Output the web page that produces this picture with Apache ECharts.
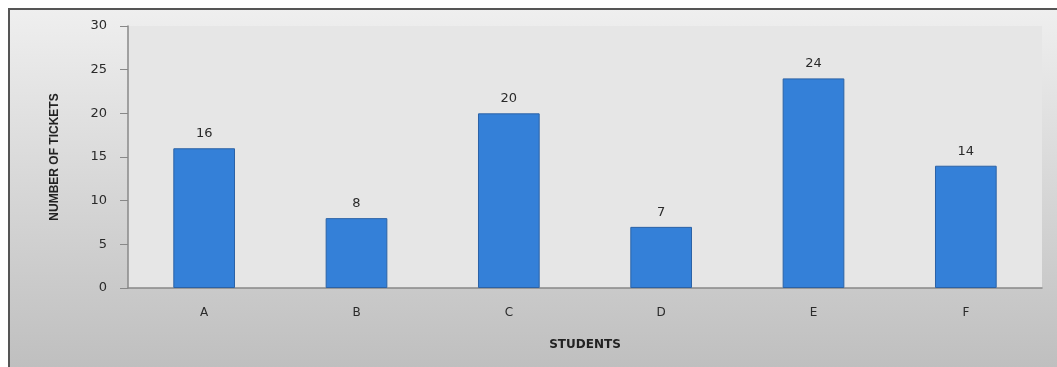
<!DOCTYPE html>
<html><head><meta charset="utf-8">
<script src="https://cdn.jsdelivr.net/npm/echarts@6/dist/echarts.min.js"></script>
<style>html,body{margin:0;padding:0;background:#fff}#c{width:1057px;height:367px}</style>
</head><body><div id="c"></div>
<script>
const categories = ['A','B','C','D','E','F'];
const tickets = [16, 8, 20, 7, 24, 14];
const yTicks = [0, 5, 10, 15, 20, 25, 30];

const chart = echarts.init(document.getElementById('c'), null, {renderer:'canvas'});
chart.setOption({
  animation: false,
  backgroundColor: '#ffffff',
  graphic: [{
    type: 'rect', z: -10, silent: true,
    shape: {x: 9, y: 9, width: 1060, height: 380},
    style: {
      fill: new echarts.graphic.LinearGradient(0,0,0,1,[{offset:0,color:'#efefef'},{offset:1,color:'#bcbcbc'}]),
      stroke: '#555', lineWidth: 2
    }
  }],
  grid: {left: 128, right: 15, top: 26, bottom: 79, show: true, backgroundColor: '#e6e6e6', borderWidth: 0},
  xAxis: {
    type: 'category', data: categories,
    name: 'STUDENTS', nameLocation: 'middle', nameGap: 51,
    nameTextStyle: {fontFamily: 'DejaVu Sans', fontWeight: 'bold', fontSize: 12, color: '#222'},
    axisLine: {lineStyle: {color: '#888', width: 1.5}},
    axisTick: {show: false},
    axisLabel: {margin: 19, fontFamily: 'DejaVu Sans', fontSize: 12, color: '#2a2a2a'}
  },
  yAxis: {
    type: 'value', min: 0, max: 30, interval: 5,
    name: 'NUMBER OF TICKETS', nameLocation: 'middle', nameGap: 67,
    nameTextStyle: {fontFamily: 'Liberation Sans Narrow, Liberation Sans', fontWeight: 'bold', fontSize: 12, color: '#222'},
    axisLine: {show: true, lineStyle: {color: '#888', width: 1.5}},
    axisTick: {show: true, length: 8, lineStyle: {color: '#888'}},
    splitLine: {show: false},
    axisLabel: {margin: 21, fontFamily: 'DejaVu Sans', fontSize: 13, color: '#2a2a2a',
      formatter: v => yTicks.includes(v) ? String(v) : ''}
  },
  series: [{
    type: 'bar', data: tickets, barWidth: '40.5%',
    itemStyle: {color: '#3480d8', borderColor: '#2b62a6', borderWidth: 1},
    label: {show: true, position: 'top', distance: 8, fontFamily: 'DejaVu Sans', fontSize: 13, color: '#2a2a2a'}
  }]
});
</script></body></html>
